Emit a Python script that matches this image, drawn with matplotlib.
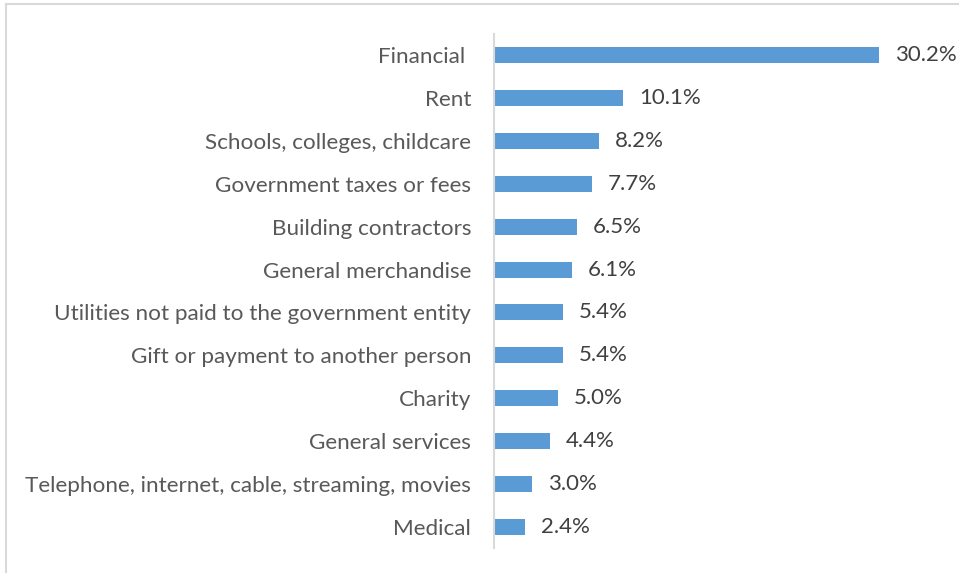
import matplotlib.pyplot as plt
from matplotlib.lines import Line2D

categories = [
    "Financial ",
    "Rent",
    "Schools, colleges, childcare",
    "Government taxes or fees",
    "Building contractors",
    "General merchandise",
    "Utilities not paid to the government entity",
    "Gift or payment to another person",
    "Charity",
    "General services",
    "Telephone, internet, cable, streaming, movies",
    "Medical",
]
shares = [30.2, 10.1, 8.2, 7.7, 6.5, 6.1, 5.4, 5.4, 5.0, 4.4, 3.0, 2.4]

W, H = 959, 573
fig = plt.figure(figsize=(W / 100, H / 100), dpi=100)
plt.rcParams['font.family'] = ['Lato', 'DejaVu Sans']

# axes placed in pixel terms: value axis starts at x=494
left, right, top, bottom = 494, 950, 34, 548
ax = fig.add_axes([left / W, 1 - bottom / H, (right - left) / W, (bottom - top) / H])

y = list(range(len(categories)))
ax.barh(y, shares, height=0.37, color='#5B9BD5')
ax.set_ylim(len(categories) - 0.5, -0.5)
ax.set_xlim(0, (right - left) / 12.75)

for yi, v in zip(y, shares):
    ax.annotate(f"{v:.1f}%", (v, yi), xytext=(11.5, 0), textcoords='offset points',
                va='center', ha='left', fontsize=16, color='#404040')

ax.set_yticks(y)
ax.set_yticklabels(categories, fontsize=16.2, color='#595959')
ax.tick_params(axis='y', length=0, pad=16.5)
ax.set_xticks([])
for s in ['top', 'right', 'bottom']:
    ax.spines[s].set_visible(False)
ax.spines['left'].set_color('#D9D9D9')
ax.spines['left'].set_linewidth(1.5)

# outer frame lines (top and left)
fig.add_artist(Line2D([6 / W, 1], [1 - 4 / H, 1 - 4 / H], color='#D9D9D9', lw=1.5))
fig.add_artist(Line2D([6 / W, 6 / W], [0, 1 - 4 / H], color='#D9D9D9', lw=1.5))

fig.savefig('out.png', dpi=100)
